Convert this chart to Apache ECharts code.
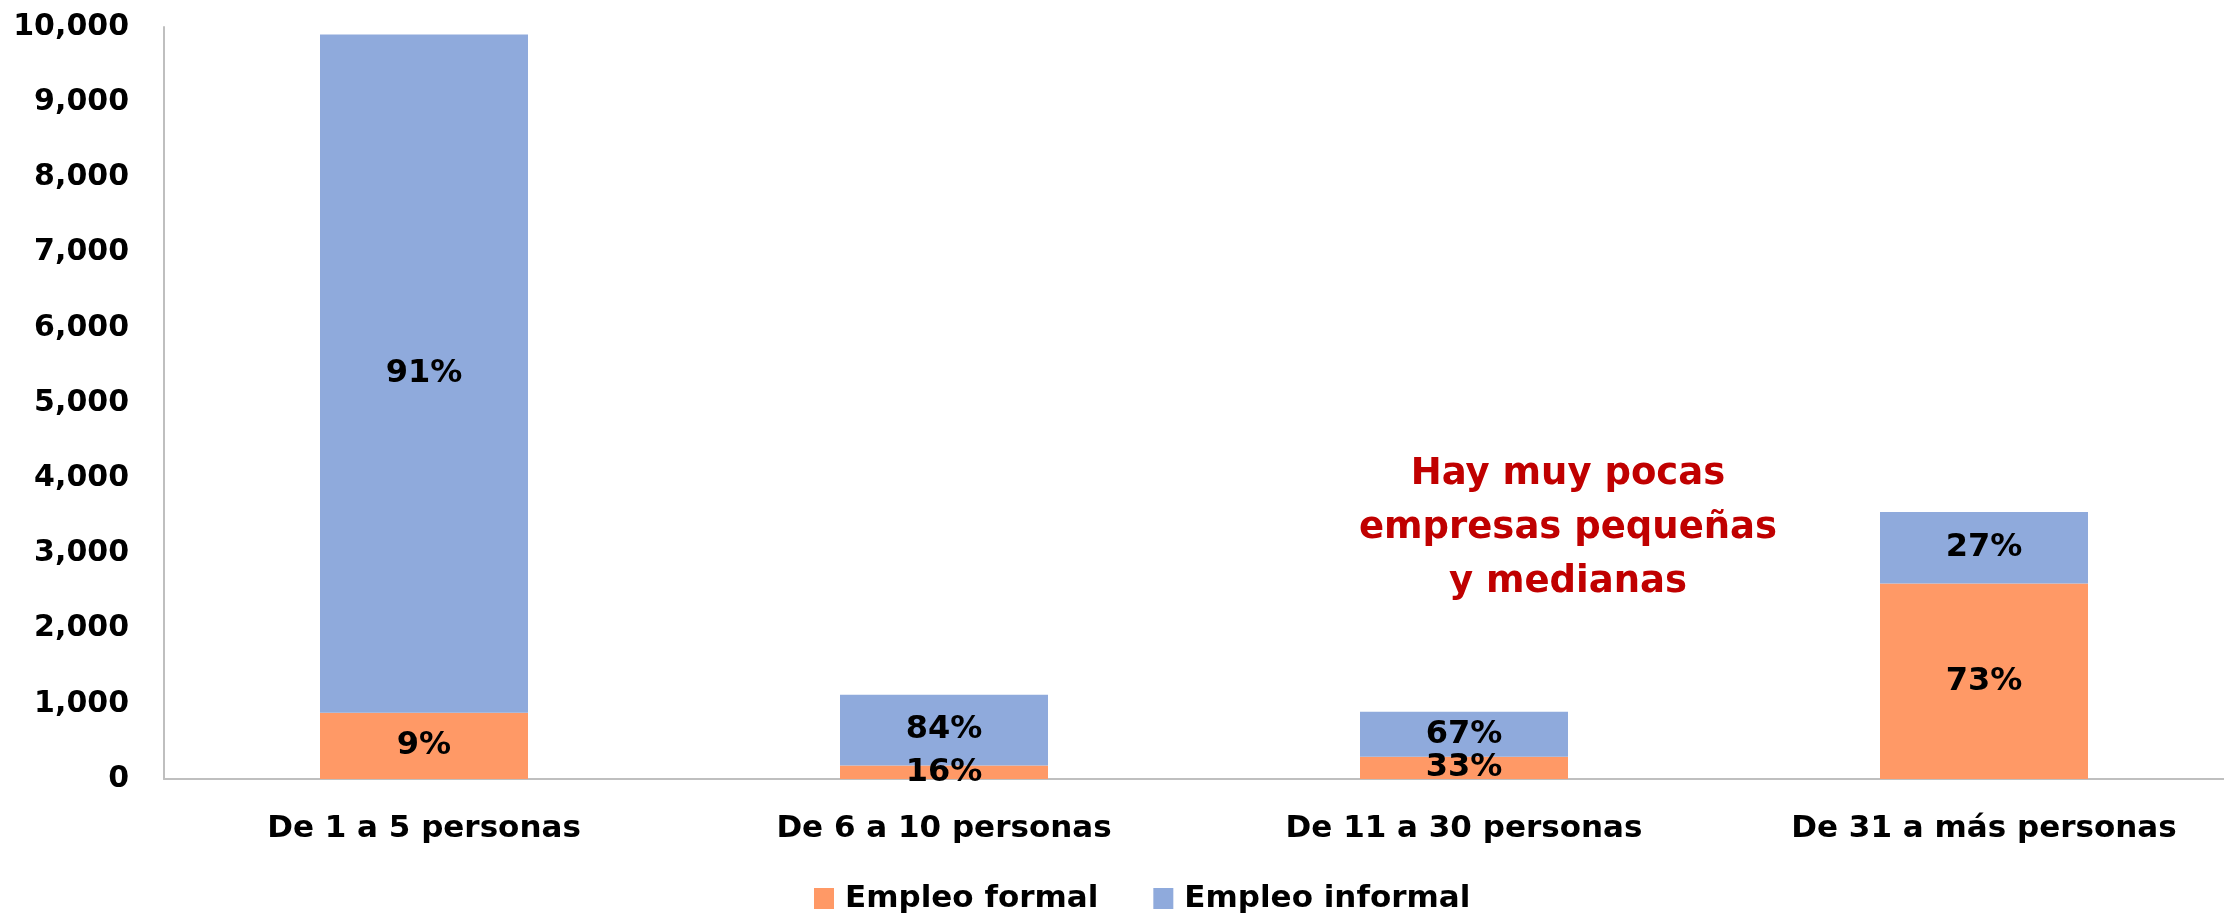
<!DOCTYPE html>
<html>
<head>
<meta charset="utf-8">
<title>Empleo formal e informal por tamaño de empresa</title>
<script src="https://cdn.jsdelivr.net/npm/echarts@6/dist/echarts.min.js"></script>
<style>
  html, body { margin: 0; padding: 0; background: #ffffff; }
  #chart { width: 2224px; height: 915px; }
</style>
</head>
<body>
<div id="chart"></div>
<script>
// Company size bands (x axis)
const categories = ['De 1 a 5 personas', 'De 6 a 10 personas', 'De 11 a 30 personas', 'De 31 a más personas'];
// Employment counts per band
const formalValues = [880, 180, 295, 2600];
const informalValues = [9020, 940, 600, 950];
const seriesNames = ['Empleo formal', 'Empleo informal'];
const noteLines = ['Hay muy pocas', 'empresas pequeñas', 'y medianas'];

const FONT = '"DejaVu Sans"';
const COLOR_FORMAL = '#FF9966';
const COLOR_INFORMAL = '#8FAADC';

const totals = categories.map((_, i) => formalValues[i] + informalValues[i]);
const pct = (v, i) => Math.round(v / totals[i] * 100) + '%';

const labelStyle = {
  show: true,
  position: 'inside',
  color: '#000000',
  fontFamily: FONT,
  fontWeight: 'bold',
  fontSize: 32,
  padding: [6, 0, 0, 0]
};

const chart = echarts.init(document.getElementById('chart'), null, { renderer: 'canvas' });

chart.setOption({
  backgroundColor: '#ffffff',
  animation: false,
  // plot area runs past the right edge of the canvas
  grid: {
    left: 164,
    width: 2080,
    top: 27,
    bottom: 136,
    containLabel: false,
    outerBoundsMode: 'none'
  },
  legend: {
    left: 809,
    top: 878,
    icon: 'rect',
    itemWidth: 20,
    itemHeight: 21,
    itemGap: 55,
    data: seriesNames,
    textStyle: {
      color: '#000000',
      fontFamily: FONT,
      fontWeight: 'bold',
      fontSize: 31,
      padding: [0, 0, 0, 6]
    }
  },
  xAxis: {
    type: 'category',
    data: categories,
    axisLine: { lineStyle: { color: '#BFBFBF', width: 2 } },
    axisTick: { show: false },
    axisLabel: {
      color: '#000000',
      fontFamily: FONT,
      fontWeight: 'bold',
      fontSize: 31,
      margin: 34
    }
  },
  yAxis: {
    type: 'value',
    min: 0,
    max: 10000,
    interval: 1000,
    splitLine: { show: false },
    axisLine: { show: true, lineStyle: { color: '#BFBFBF', width: 2 } },
    axisTick: { show: false },
    axisLabel: {
      color: '#000000',
      fontFamily: FONT,
      fontWeight: 'bold',
      fontSize: 30,
      margin: 35,
      padding: [7, 0, 0, 0],
      formatter: v => v.toLocaleString('en-US')
    }
  },
  series: [
    {
      name: seriesNames[0],
      type: 'bar',
      stack: 'empleo',
      barWidth: '40%',
      itemStyle: { color: COLOR_FORMAL },
      label: Object.assign({}, labelStyle, { formatter: p => pct(p.value, p.dataIndex) }),
      data: formalValues
    },
    {
      name: seriesNames[1],
      type: 'bar',
      stack: 'empleo',
      barWidth: '40%',
      itemStyle: { color: COLOR_INFORMAL },
      label: Object.assign({}, labelStyle, { formatter: p => pct(p.value, p.dataIndex) }),
      data: informalValues
    }
  ],
  graphic: [
    {
      type: 'text',
      x: 1568,
      y: 447,
      style: {
        text: noteLines.join('\n'),
        align: 'center',
        verticalAlign: 'top',
        fill: '#C00000',
        font: 'bold 37px ' + FONT,
        lineHeight: 54
      }
    }
  ]
});
</script>
</body>
</html>
